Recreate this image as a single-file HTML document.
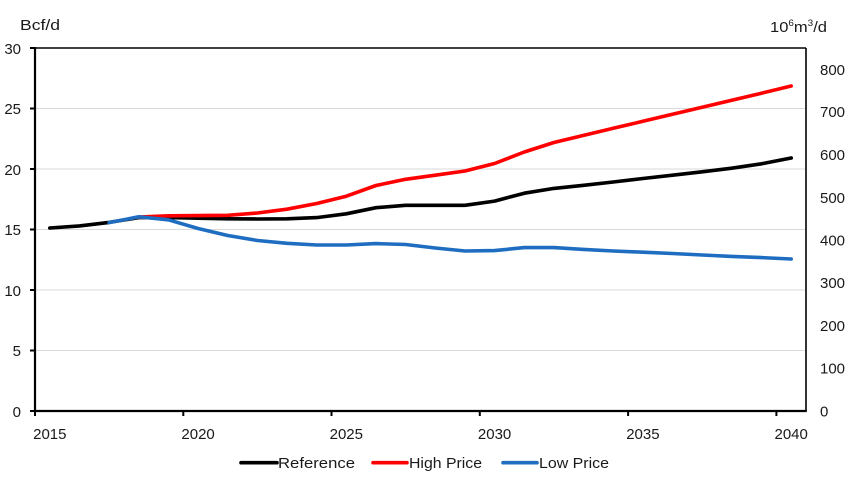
<!DOCTYPE html>
<html>
<head>
<meta charset="utf-8">
<style>
  html, body { margin: 0; padding: 0; background: #ffffff; }
  svg { display: block; }
  text { font-family: "Liberation Sans", "DejaVu Sans", sans-serif; fill: #1a1a1a; }
</style>
</head>
<body>
<svg width="846" height="484" viewBox="0 0 846 484" xmlns="http://www.w3.org/2000/svg">
  <rect x="0" y="0" width="846" height="484" fill="#ffffff"/>

  <!-- gridlines -->
  <g stroke="#d9d9d9" stroke-width="1">
    <line x1="36" y1="108.5" x2="805" y2="108.5"/>
    <line x1="36" y1="169" x2="805" y2="169"/>
    <line x1="36" y1="229.5" x2="805" y2="229.5"/>
    <line x1="36" y1="290" x2="805" y2="290"/>
    <line x1="36" y1="350.5" x2="805" y2="350.5"/>
  </g>

  <!-- plot border / axes -->
  <line x1="35" y1="48" x2="806" y2="48" stroke="#000" stroke-width="1.6"/>
  <line x1="806" y1="48" x2="806" y2="411" stroke="#000" stroke-width="1.6"/>
  <line x1="35" y1="47" x2="35" y2="412" stroke="#000" stroke-width="2.2"/>
  <line x1="34" y1="411" x2="806.8" y2="411" stroke="#000" stroke-width="2.2"/>

  <!-- left ticks -->
  <g stroke="#000" stroke-width="2">
    <line x1="30" y1="48" x2="35" y2="48"/>
    <line x1="30" y1="108.5" x2="35" y2="108.5"/>
    <line x1="30" y1="169" x2="35" y2="169"/>
    <line x1="30" y1="229.5" x2="35" y2="229.5"/>
    <line x1="30" y1="290" x2="35" y2="290"/>
    <line x1="30" y1="350.5" x2="35" y2="350.5"/>
    <line x1="30" y1="411" x2="35" y2="411"/>
  </g>
  <!-- bottom ticks -->
  <g stroke="#000" stroke-width="2">
    <line x1="35" y1="411" x2="35" y2="416"/>
    <line x1="183.3" y1="411" x2="183.3" y2="416"/>
    <line x1="331.5" y1="411" x2="331.5" y2="416"/>
    <line x1="479.8" y1="411" x2="479.8" y2="416"/>
    <line x1="628.1" y1="411" x2="628.1" y2="416"/>
    <line x1="776.4" y1="411" x2="776.4" y2="416"/>
  </g>

  <!-- left tick labels -->
  <g font-size="15" text-anchor="end">
    <text x="21" y="54">30</text>
    <text x="21" y="114">25</text>
    <text x="21" y="175">20</text>
    <text x="21" y="235">15</text>
    <text x="21" y="296">10</text>
    <text x="21" y="356">5</text>
    <text x="21" y="417">0</text>
  </g>

  <!-- right tick labels -->
  <g font-size="15" text-anchor="start">
    <text x="820" y="75">800</text>
    <text x="820" y="117">700</text>
    <text x="820" y="160">600</text>
    <text x="820" y="203">500</text>
    <text x="820" y="245.5">400</text>
    <text x="820" y="288">300</text>
    <text x="820" y="331">200</text>
    <text x="820" y="373.5">100</text>
    <text x="820" y="416.5">0</text>
  </g>

  <!-- x labels -->
  <g font-size="15" text-anchor="middle">
    <text x="49.8" y="439">2015</text>
    <text x="198.1" y="439">2020</text>
    <text x="346.3" y="439">2025</text>
    <text x="494.6" y="439">2030</text>
    <text x="642.9" y="439">2035</text>
    <text x="791.2" y="439">2040</text>
  </g>

  <!-- axis titles -->
  <text x="20" y="30" font-size="15" textLength="40" lengthAdjust="spacingAndGlyphs">Bcf/d</text>
  <text x="770" y="32" font-size="15" textLength="57" lengthAdjust="spacingAndGlyphs">10<tspan font-size="9" dy="-6">6</tspan><tspan dy="6">m</tspan><tspan font-size="9" dy="-6">3</tspan><tspan dy="6">/d</tspan></text>

  <!-- Reference -->
  <polyline fill="none" stroke="#000000" stroke-width="3.6" stroke-linejoin="round" stroke-linecap="round"
    points="49.8,228.0 79.5,225.9 109.1,222.4 138.8,217.6 168.4,217.6 198.1,218.2 227.7,218.8 257.4,219.0 287.0,218.8 316.7,217.6 346.3,213.8 376.0,207.7 405.6,205.3 435.3,205.3 465.0,205.3 494.6,201.1 524.3,193.2 553.9,188.4 583.6,185.3 613.2,182.0 642.9,178.5 672.5,175.2 702.2,171.8 731.8,168.2 761.5,163.8 791.2,158.0"/>

  <!-- High Price -->
  <polyline fill="none" stroke="#ff0000" stroke-width="3.6" stroke-linejoin="round" stroke-linecap="round"
    points="138.8,217.0 168.4,215.8 198.1,215.6 227.7,215.3 257.4,213.0 287.0,209.2 316.7,203.5 346.3,196.2 376.0,185.5 405.6,179.3 435.3,175.2 465.0,171.0 494.6,163.5 524.3,152.0 553.9,142.5 583.6,135.4 613.2,128.3 642.9,121.3 672.5,114.3 702.2,107.3 731.8,100.3 761.5,93.2 791.2,86.0"/>

  <!-- Low Price -->
  <polyline fill="none" stroke="#1f6dc0" stroke-width="3.6" stroke-linejoin="round" stroke-linecap="round"
    points="109.1,222.6 138.8,216.8 168.4,219.8 198.1,228.5 227.7,235.5 257.4,240.5 287.0,243.3 316.7,245.0 346.3,245.0 376.0,243.6 405.6,244.5 435.3,248.0 465.0,251.0 494.6,250.6 524.3,247.6 553.9,247.6 583.6,249.4 613.2,251.0 642.9,252.2 672.5,253.5 702.2,255.0 731.8,256.4 761.5,257.6 791.2,259.0"/>

  <!-- legend -->
  <line x1="241" y1="462.7" x2="277" y2="462.7" stroke="#000000" stroke-width="3.6" stroke-linecap="round"/>
  <text x="278" y="468" font-size="15" textLength="77" lengthAdjust="spacingAndGlyphs">Reference</text>
  <line x1="373" y1="462.7" x2="407" y2="462.7" stroke="#ff0000" stroke-width="3.6" stroke-linecap="round"/>
  <text x="409" y="468" font-size="15" textLength="73" lengthAdjust="spacingAndGlyphs">High Price</text>
  <line x1="503" y1="462.7" x2="537" y2="462.7" stroke="#1f6dc0" stroke-width="3.6" stroke-linecap="round"/>
  <text x="539" y="468" font-size="15" textLength="70" lengthAdjust="spacingAndGlyphs">Low Price</text>
</svg>
</body>
</html>
